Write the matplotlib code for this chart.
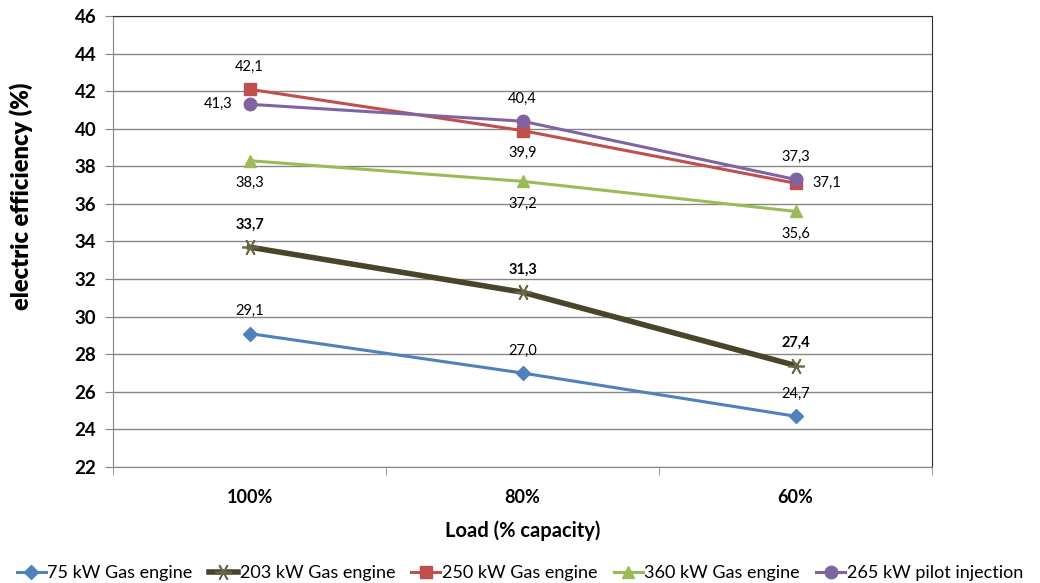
import numpy as np
import matplotlib
matplotlib.use('Agg')
import matplotlib.pyplot as plt

plt.rcParams['font.family'] = ['Lato', 'DejaVu Sans']

loads = ['100%', '80%', '60%']
series_names = ['75 kW Gas engine', '203 kW Gas engine', '250 kW Gas engine',
                '360 kW Gas engine', '265 kW pilot injection']
eff_75 = [29.1, 27.0, 24.7]
eff_203 = [33.7, 31.3, 27.4]
eff_250 = [42.1, 39.9, 37.1]
eff_360 = [38.3, 37.2, 35.6]
eff_265 = [41.3, 40.4, 37.3]

STAR = (6, 2, 90)

# style per series: color, marker, markersize, linewidth, label placement per point
styles = [
    dict(c='#4F81BD', m='D', ms=7, lw=2.2, pos=['above', 'above', 'above'], bold=False),
    dict(c='#4A452A', m=STAR, ms=12, lw=4, pos=['above', 'above', 'above'], bold=True),
    dict(c='#C0504D', m='s', ms=8, lw=2.2, pos=['above', 'below', 'right'], bold=False),
    dict(c='#9BBB59', m='^', ms=9, lw=2.2, pos=['below', 'below', 'below'], bold=False),
    dict(c='#8064A2', m='o', ms=9, lw=2.2, pos=['left', 'above', 'above'], bold=False),
]
all_data = [eff_75, eff_203, eff_250, eff_360, eff_265]

fig = plt.figure(figsize=(10.4, 5.83), dpi=100)
ax = fig.add_axes([0.1087, 0.199, 0.7875, 0.7736])

x = np.arange(len(loads))
handles = []
for name, vals, st in zip(series_names, all_data, styles):
    h, = ax.plot(x, vals, color=st['c'], lw=st['lw'], marker=st['m'], ms=st['ms'],
                 mec=st['c'], mew=1, label=name, zorder=3)
    if st['m'] == STAR:
        h.set_markeredgecolor('#6B6447')
        h.set_markeredgewidth(1.2)
    handles.append(h)
    for xi, v, p in zip(x, vals, st['pos']):
        txt = f'{v:.1f}'.replace('.', ',')
        off = {'above': (0, 11), 'below': (0, -11), 'right': (12, 0), 'left': (-12, 0)}[p]
        ha = {'above': 'center', 'below': 'center', 'right': 'left', 'left': 'right'}[p]
        va = {'above': 'bottom', 'below': 'top', 'right': 'center', 'left': 'center'}[p]
        ax.annotate(txt, (xi, v), xytext=off, textcoords='offset points',
                    ha=ha, va=va, fontsize=10.5, color='black',
                    fontweight='bold' if st['bold'] else 'normal')

ax.set_xlim(-0.5, 2.5)
ax.set_ylim(22, 46)
ax.set_yticks(np.arange(22, 47, 2))
ax.set_xticks(x)
ax.set_xticklabels(loads, fontweight='bold', fontsize=13)
ax.set_xticks([-0.5, 0.5, 1.5, 2.5], minor=True)
ax.tick_params(axis='x', which='major', length=0, pad=16)
ax.tick_params(axis='x', which='minor', length=6, color='#868686', direction='out')
ax.tick_params(axis='y', length=6, color='#868686', labelsize=13.5, pad=6)
for lab in ax.get_yticklabels():
    lab.set_fontweight('bold')

ax.grid(axis='y', color='#868686', lw=1)
ax.set_axisbelow(True)
for s in ['left', 'bottom']:
    ax.spines[s].set_color('#868686')
for s in ['top', 'right']:
    ax.spines[s].set_color('#303030')

ax.set_xlabel('Load (% capacity)', fontsize=14.5, fontweight='bold', labelpad=10)
ax.set_ylabel('electric efficiency (%)', fontsize=17, fontweight='heavy', labelpad=18)
ax.yaxis.set_label_coords(-0.098, 0.6)

fig.legend(handles=handles, loc='lower center', bbox_to_anchor=(0.5, -0.025), ncol=5,
           frameon=False, fontsize=13, handlelength=1.6, handletextpad=0.1,
           columnspacing=0.9)

fig.savefig('out.png', dpi=100)
